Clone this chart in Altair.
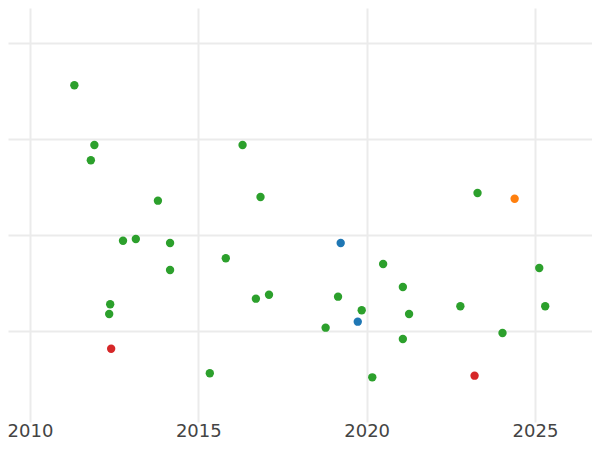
import altair as alt
import pandas as pd

years = [2011.318, 2011.913, 2011.808, 2013.800, 2012.763, 2013.144, 2014.161, 2014.161,
         2012.382, 2012.353, 2012.411, 2015.341, 2016.314, 2016.847, 2015.816, 2016.710,
         2017.099, 2019.229, 2018.781, 2019.150, 2019.853, 2019.736, 2020.167, 2020.489,
         2021.075, 2021.260, 2021.075, 2023.293, 2024.395, 2022.783, 2023.205, 2024.035,
         2025.127, 2025.303]
values = [71.19, 58.75, 55.56, 47.15, 38.81, 39.17, 38.33, 32.71,
          25.56, 23.54, 16.31, 11.19, 58.75, 47.92, 35.15, 26.73,
          27.56, 38.33, 20.69, 27.15, 24.31, 21.94, 10.35, 33.96,
          29.17, 23.54, 18.33, 48.75, 47.56, 25.15, 10.69, 19.58,
          33.13, 25.15]
groups = ["C", "C", "C", "C", "C", "C", "C", "C",
          "C", "C", "D", "C", "C", "C", "C", "C",
          "C", "A", "C", "C", "C", "A", "C", "C",
          "C", "C", "C", "C", "B", "C", "D", "C",
          "C", "C"]

group_domain = ["A", "B", "C", "D"]
group_colors = ["#1f77b4", "#ff7f0e", "#2ca02c", "#d62728"]
x_ticks = [2010, 2015, 2020, 2025]
y_ticks = [20, 40, 60, 80]

df = pd.DataFrame({"year": years, "value": values, "group": groups})

chart = (
    alt.Chart(df)
    .mark_circle(size=70, opacity=1)
    .encode(
        x=alt.X(
            "year:Q",
            scale=alt.Scale(domain=[2009.347, 2026.693], nice=False, zero=False),
            axis=alt.Axis(
                values=x_ticks,
                format="d",
                title=None,
                domain=False,
                ticks=False,
                grid=True,
                gridColor="#ebebeb",
                gridWidth=2,
                labelFont="DejaVu Sans",
                labelFontSize=18,
                labelColor="#444444",
                labelPadding=0,
            ),
        ),
        y=alt.Y(
            "value:Q",
            scale=alt.Scale(domain=[1.04, 87.29], nice=False, zero=False),
            axis=alt.Axis(
                values=y_ticks,
                title=None,
                labels=False,
                domain=False,
                ticks=False,
                grid=True,
                gridColor="#ebebeb",
                gridWidth=2,
            ),
        ),
        color=alt.Color(
            "group:N",
            scale=alt.Scale(domain=group_domain, range=group_colors),
            legend=None,
        ),
    )
    .properties(
        width=584,
        height=414,
        autosize=alt.AutoSizeParams(type="none"),
        padding={"left": 0, "top": 0, "right": 0, "bottom": 20},
    )
    .configure_view(strokeWidth=0)
)

chart.save("out.html", embed_options={"renderer": "svg", "actions": False})
